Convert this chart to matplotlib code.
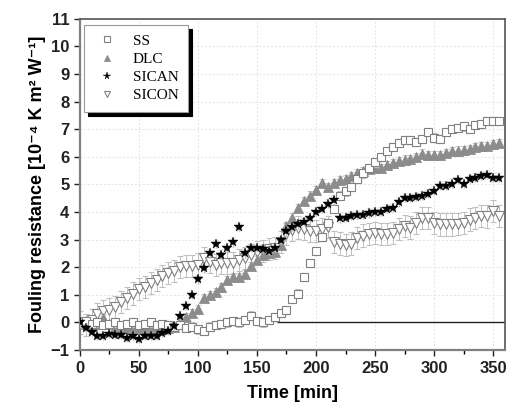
import numpy as np
import matplotlib
matplotlib.use("Agg")
import matplotlib.pyplot as plt

plt.rcParams["font.family"] = ["Liberation Sans", "DejaVu Sans"]

# time axis, one point every 5 min
time_min = list(range(0, 360, 5))

ss = [0.0, 0.05, -0.05, 0.0, -0.1, -0.05, 0.0, -0.1, -0.05, 0.0, -0.1, -0.05,
      0.0, -0.1, -0.05, -0.1, -0.15, -0.1, -0.2, -0.15, -0.25, -0.3, -0.15, -0.1,
      -0.05, 0.0, 0.05, 0.0, 0.1, 0.25, 0.05, 0.0, 0.1, 0.2, 0.35, 0.45,
      0.85, 1.05, 1.65, 2.15, 2.6, 3.1, 3.6, 4.1, 4.6, 4.75, 4.9, 5.2,
      5.4, 5.6, 5.8, 6.0, 6.2, 6.35, 6.5, 6.6, 6.6, 6.55, 6.65, 6.9,
      6.7, 6.65, 6.9, 7.0, 7.05, 7.1, 7.0, 7.15, 7.2, 7.3, 7.3, 7.3]

dlc = [0.0, -0.05, -0.1, -0.05, 0.15, -0.05, -0.15, -0.2, -0.2, -0.15, -0.2, -0.2,
       -0.25, -0.2, -0.25, -0.2, -0.15, 0.05, 0.2, 0.35, 0.5, 0.9, 1.0, 1.1,
       1.27, 1.55, 1.63, 1.65, 1.75, 2.05, 2.25, 2.43, 2.5, 2.55, 2.8, 3.5,
       3.8, 4.15, 4.4, 4.6, 4.8, 5.05, 4.9, 5.05, 5.15, 5.2, 5.3, 5.4,
       5.5, 5.55, 5.58, 5.6, 5.7, 5.76, 5.85, 5.9, 5.93, 6.0, 6.12, 6.05,
       6.05, 6.05, 6.15, 6.2, 6.23, 6.25, 6.28, 6.35, 6.38, 6.4, 6.45, 6.5]

sican = [0.0, -0.2, -0.35, -0.5, -0.48, -0.4, -0.44, -0.44, -0.55, -0.48, -0.58, -0.5,
         -0.48, -0.5, -0.38, -0.3, -0.12, 0.25, 0.6, 1.0, 1.56, 1.96, 2.5, 2.85,
         2.46, 2.7, 2.9, 3.45, 2.5, 2.7, 2.7, 2.65, 2.6, 2.7, 3.0, 3.3,
         3.45, 3.55, 3.65, 3.8, 4.0, 4.12, 4.3, 4.42, 3.77, 3.8, 3.85, 3.9,
         3.9, 3.95, 4.0, 4.0, 4.1, 4.15, 4.35, 4.5, 4.5, 4.55, 4.6, 4.65,
         4.78, 4.95, 4.95, 5.03, 5.15, 5.03, 5.2, 5.25, 5.3, 5.33, 5.25, 5.25]

sicon = [0.0, -0.1, 0.1, 0.3, 0.43, 0.47, 0.55, 0.75, 0.88, 1.05, 1.2, 1.28,
         1.42, 1.55, 1.68, 1.78, 1.88, 2.0, 2.05, 2.05, 2.1, 2.35, 2.2, 2.07,
         2.15, 2.17, 2.17, 2.25, 2.35, 2.45, 2.54, 2.6, 2.65, 2.7, 2.9, 3.2,
         3.35, 3.44, 3.4, 3.33, 3.33, 3.4, 3.45, 2.9, 2.86, 2.8, 2.86, 3.05,
         3.15, 3.2, 3.25, 3.22, 3.2, 3.25, 3.4, 3.5, 3.44, 3.6, 3.8, 3.77,
         3.6, 3.55, 3.55, 3.55, 3.58, 3.62, 3.73, 3.8, 3.87, 3.84, 4.05, 3.85]

# rough error bar half-widths
err_ss = 0.15
err_dlc = 0.15
err_sican = 0.15
err_sicon = 0.4

fig = plt.figure(figsize=(5.08, 4.09), dpi=100)
ax = fig.add_axes([0.157, 0.144, 0.837, 0.81])

ax.grid(True, color="#e4e4e4", linestyle=(0, (2, 2)), linewidth=0.7)
ax.set_axisbelow(True)

# zero reference line
ax.hlines(0, 167, 360, color="#222222", linewidth=1.0, zorder=1)

eb = dict(ecolor="#c0c0c0", elinewidth=0.7, capsize=2, capthick=0.7, linestyle="none")
ax.errorbar(time_min, sicon, yerr=err_sicon, marker="v", ms=6.5, mfc="white",
            mec="#808080", mew=0.8, label="SICON", zorder=2, **eb)
ax.errorbar(time_min, dlc, yerr=err_dlc, marker="^", ms=6.5, mfc="#8c8c8c",
            mec="#8c8c8c", mew=0.6, label="DLC", zorder=3, **eb)
ax.errorbar(time_min, ss, yerr=err_ss, marker="s", ms=6, mfc="white",
            mec="#808080", mew=0.8, label="SS", zorder=4, **eb)
ax.errorbar(time_min, sican, yerr=err_sican, marker="*", ms=7.5, mfc="black",
            mec="black", mew=0.3, label="SICAN", zorder=5, **eb)

ax.set_xlim(0, 360)
ax.set_ylim(-1, 11)
ax.set_xticks(range(0, 351, 50))
ax.set_xticks(range(25, 360, 50), minor=True)
ax.set_yticks(range(-1, 12))
ax.tick_params(direction="out", length=4, width=1, labelsize=12, colors="#222222")
ax.tick_params(which="minor", direction="out", length=3, width=1)
for lab in ax.get_xticklabels() + ax.get_yticklabels():
    lab.set_fontweight("bold")

for side in ["left", "bottom"]:
    ax.spines[side].set_color("#808080")
    ax.spines[side].set_linewidth(1.6)
for side in ["top", "right"]:
    ax.spines[side].set_color("#555555")
    ax.spines[side].set_linewidth(1.2)

ax.set_xlabel("Time [min]", fontsize=13, fontweight="bold", labelpad=7)
ax.set_ylabel("Fouling resistance [10\u207b\u2074 K m\u00b2 W\u207b\u00b9]",
              fontsize=13, fontweight="bold", labelpad=3)

handles, labels = ax.get_legend_handles_labels()
order = [labels.index(n) for n in ["SS", "DLC", "SICAN", "SICON"]]
leg = ax.legend([handles[i][0] for i in order], [labels[i] for i in order],
                loc="upper left", bbox_to_anchor=(0.01, 0.982), borderaxespad=0,
                frameon=True, fancybox=False,
                shadow={"color": "black", "alpha": 1.0, "ox": 3, "oy": -3},
                edgecolor="#999999",
                prop={"family": "Liberation Serif", "size": 11},
                handletextpad=0.8, borderpad=0.6, labelspacing=0.3,
                handlelength=1.8, markerscale=0.75)
leg.get_frame().set_linewidth(0.8)

fig.savefig("out.png", dpi=100)
